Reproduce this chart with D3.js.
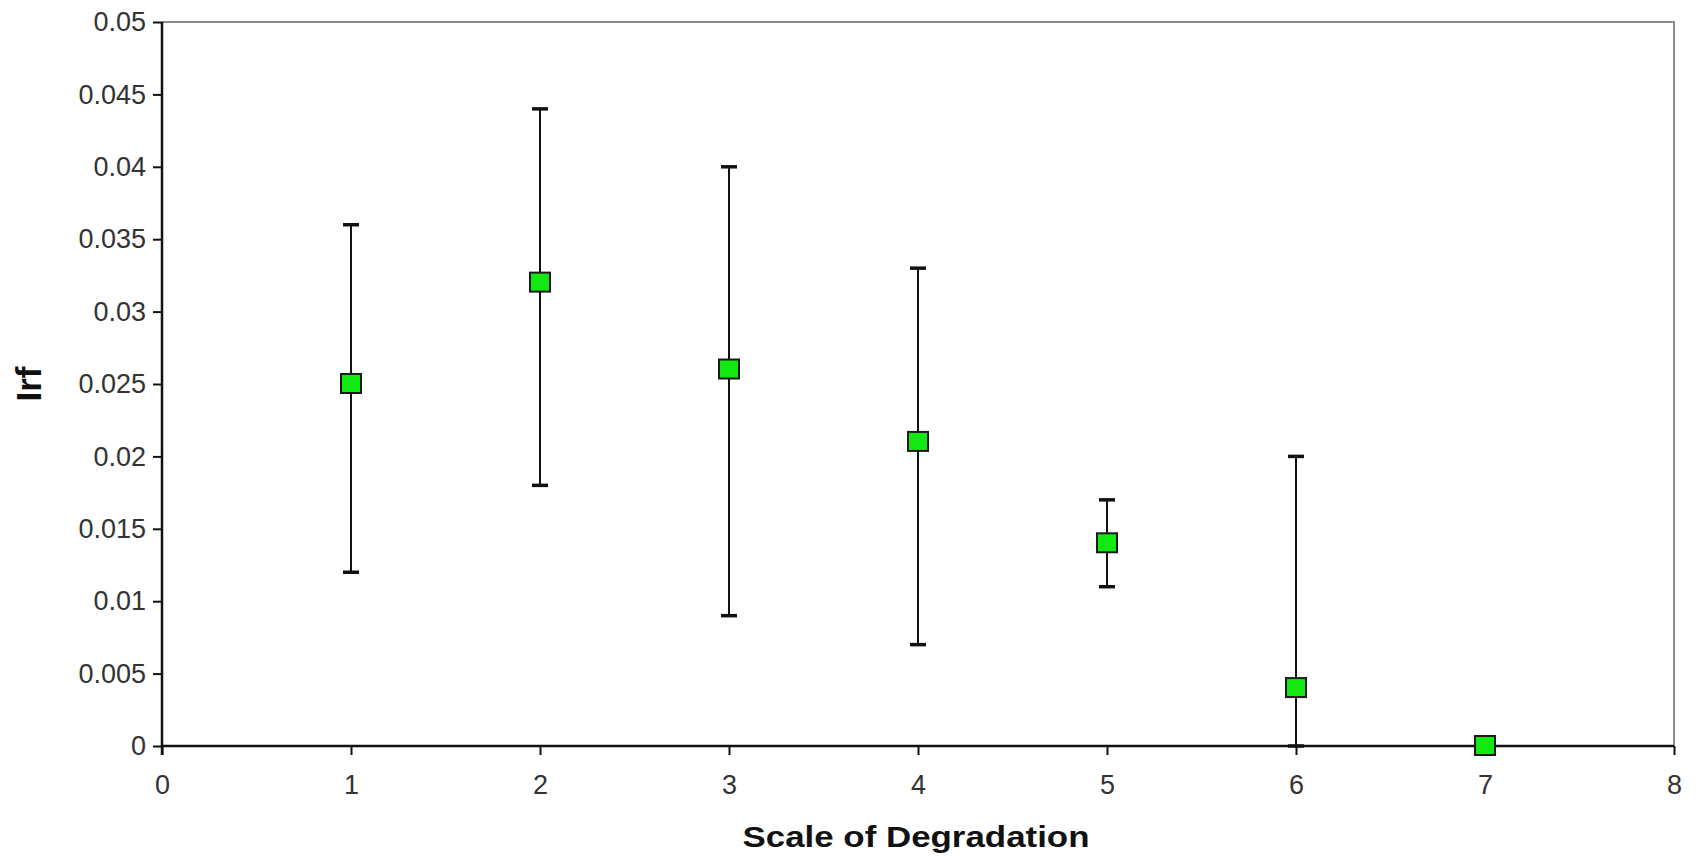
<!DOCTYPE html>
<html>
<head>
<meta charset="utf-8">
<script src="https://cdn.jsdelivr.net/npm/d3@7"></script>
<style>
  body { margin: 0; background: #fff; }
  .tick text { font-family: "Liberation Sans", Arial, sans-serif; }
</style>
</head>
<body>
<div id="chart"></div>
<script>
// values
var degradation = [1, 2, 3, 4, 5, 6, 7];
var irf = [0.025, 0.032, 0.026, 0.021, 0.014, 0.004, 0];
var irfLow = [0.012, 0.018, 0.009, 0.007, 0.011, 0, 0];
var irfHigh = [0.036, 0.044, 0.040, 0.033, 0.017, 0.020, 0];
var xTicks = [0, 1, 2, 3, 4, 5, 6, 7, 8];
var yTicks = [0, 0.005, 0.01, 0.015, 0.02, 0.025, 0.03, 0.035, 0.04, 0.045, 0.05];

var margin = { top: 22, right: 24, bottom: 113, left: 162 },
    width = 1698 - margin.left - margin.right,
    height = 859 - margin.top - margin.bottom;

var svg = d3.select("#chart")
    .append("svg")
    .attr("width", 1698)
    .attr("height", 859)
    .append("g")
    .attr("transform", "translate(" + margin.left + "," + margin.top + ")");

var x = d3.scaleLinear().domain([0, 8]).range([0, width]);
var y = d3.scaleLinear().domain([0, 0.05]).range([height, 0]);

// grey frame on top and right
svg.append("path")
    .attr("d", "M0,0H" + width + "V" + height)
    .attr("fill", "none")
    .attr("stroke", "#8c8c8c")
    .attr("stroke-width", 2);

var yAxis = svg.append("g")
    .call(d3.axisLeft(y)
        .tickValues(yTicks)
        .tickSize(9)
        .tickPadding(7)
        .tickFormat(function (d) { return d3.format("")(+d.toFixed(3)); }));

var xAxis = svg.append("g")
    .attr("transform", "translate(0," + height + ")")
    .call(d3.axisBottom(x)
        .tickValues(xTicks)
        .tickSize(9)
        .tickPadding(20)
        .tickFormat(d3.format("d")));

[xAxis, yAxis].forEach(function (a) {
    a.select(".domain").attr("stroke", "#111").attr("stroke-width", 2.5);
    a.selectAll(".tick line").attr("stroke", "#111").attr("stroke-width", 2);
    a.selectAll(".tick text")
        .attr("fill", "#333")
        .attr("font-size", "27px");
});
// the x-axis line goes through the full width; y-axis ticks sit left
xAxis.select(".domain").attr("d", "M0,0H" + width);
yAxis.select(".domain").attr("d", "M0,0V" + (height + 9));

var pts = degradation.map(function (d, i) {
    return { x: d, y: irf[i], lo: irfLow[i], hi: irfHigh[i] };
});

// error bars
var bars = svg.append("g")
    .selectAll("g")
    .data(pts.filter(function (d) { return d.hi > d.lo; }))
    .enter().append("g");

bars.append("line")
    .attr("x1", function (d) { return x(d.x); })
    .attr("x2", function (d) { return x(d.x); })
    .attr("y1", function (d) { return y(d.lo); })
    .attr("y2", function (d) { return y(d.hi); })
    .attr("stroke", "#111")
    .attr("stroke-width", 2);

bars.selectAll(".cap")
    .data(function (d) { return [{ x: d.x, v: d.lo }, { x: d.x, v: d.hi }]; })
    .enter().append("line")
    .attr("class", "cap")
    .attr("x1", function (d) { return x(d.x) - 8; })
    .attr("x2", function (d) { return x(d.x) + 8; })
    .attr("y1", function (d) { return y(d.v); })
    .attr("y2", function (d) { return y(d.v); })
    .attr("stroke", "#111")
    .attr("stroke-width", 3.5);

// markers
svg.append("g")
    .selectAll("rect")
    .data(pts)
    .enter().append("rect")
    .attr("x", function (d) { return x(d.x) - 10; })
    .attr("y", function (d) { return y(d.y) - 10; })
    .attr("width", 20)
    .attr("height", 19)
    .attr("fill", "#12e812")
    .attr("stroke", "#1a1a1a")
    .attr("stroke-width", 2);

// axis titles
svg.append("text")
    .attr("x", width / 2 - 2)
    .attr("y", height + 101)
    .attr("text-anchor", "middle")
    .attr("font-family", "Liberation Sans, Arial, sans-serif")
    .attr("font-weight", "bold")
    .attr("font-size", "29px")
    .attr("textLength", 347)
    .attr("lengthAdjust", "spacingAndGlyphs")
    .attr("fill", "#111")
    .text("Scale of Degradation");

svg.append("text")
    .attr("transform", "translate(" + (-121) + "," + (height / 2) + ") rotate(-90)")
    .attr("text-anchor", "middle")
    .attr("font-family", "Liberation Sans, Arial, sans-serif")
    .attr("font-weight", "bold")
    .attr("font-size", "35px")
    .attr("fill", "#111")
    .text("Irf");
</script>
</body>
</html>
